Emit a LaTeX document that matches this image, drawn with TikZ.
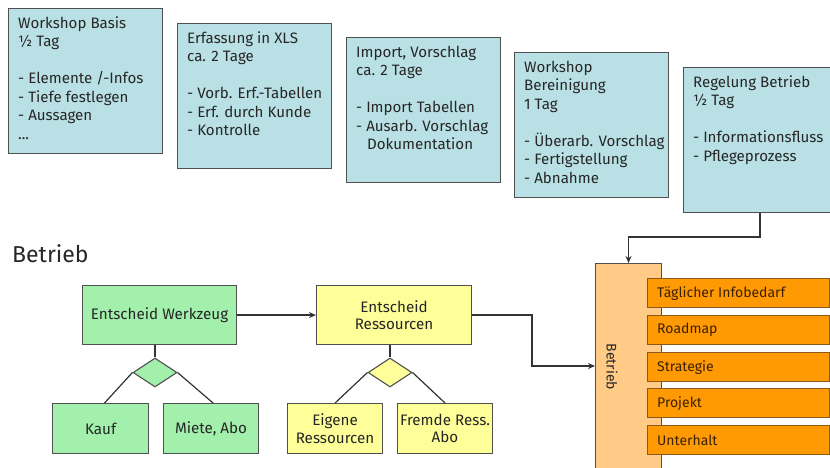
\documentclass[tikz,border=0pt]{standalone}
\usepackage{fontspec}
\setmainfont{Fira Sans}
\usetikzlibrary{arrows.meta,shapes.geometric,calc}
\definecolor{bluefill}{HTML}{B9E0E4}
\definecolor{greenfill}{HTML}{A2F0AC}
\definecolor{yellowfill}{HTML}{FFFF99}
\definecolor{betrfill}{HTML}{FFCB86}
\definecolor{orangefill}{HTML}{FF9A05}
\definecolor{orangeline}{HTML}{8A5A1A}
\definecolor{edge}{HTML}{505050}
\definecolor{browntext}{HTML}{3C2100}
\tikzset{
  box/.style={draw=edge, line width=1.1pt, inner sep=0pt, anchor=north west},
  bluebox/.style={box, fill=bluefill, minimum width=154pt, minimum height=145pt},
  toptext/.style={anchor=north west, inner sep=0pt, align=left, text=black!85,
     font=\fontsize{15.1}{18.5}\selectfont},
  greenbox/.style={box, fill=greenfill},
  yellowbox/.style={box, fill=yellowfill},
  boxtext/.style={align=center, font=\fontsize{15.2}{17.5}\selectfont, text=black!85},
  dia/.style={draw=edge, line width=1.1pt, diamond, inner sep=0pt, minimum width=44pt, minimum height=29pt},
  orangebar/.style={draw=orangeline, line width=1.1pt, fill=orangefill, inner sep=0pt,
     anchor=north west, minimum width=182pt, minimum height=29pt},
  bartext/.style={anchor=west, inner sep=0pt, text=browntext, font=\fontsize{14}{16}\selectfont},
  conn/.style={draw=black!80, line width=1.2pt},
  arr/.style={conn, -{Stealth[length=7pt,width=6pt]}},
}
\begin{document}
\begin{tikzpicture}[x=1pt,y=-1pt]
\clip (0,0) rectangle (830,467);
\fill[white] (0,0) rectangle (830,467);

% top boxes
\node[bluebox] (b1) at (8,8) {};
\node[toptext] (t1) at ([xshift=10pt,yshift=-8.5pt]b1.north west)
  {Workshop Basis\\½ Tag\\[18.5pt]- Elemente /-Infos\\- Tiefe festlegen\\- Aussagen\\...};
\node[bluebox] (b2) at (177,23) {};
\node[toptext] (t2) at ([xshift=10pt,yshift=-8.5pt]b2.north west)
  {Erfassung in XLS\\ca. 2 Tage\\[18.5pt]- Vorb. Erf.-Tabellen\\- Erf. durch Kunde\\- Kontrolle};
\node[bluebox] (b3) at (346,37) {};
\node[toptext] (t3) at ([xshift=10pt,yshift=-8.5pt]b3.north west)
  {Import, Vorschlag\\ca. 2 Tage\\[18.5pt]- Import Tabellen\\- Ausarb. Vorschlag\\\hspace*{11pt}Dokumentation};
\node[bluebox] (b4) at (514,52) {};
\node[toptext] (t4) at ([xshift=10pt,yshift=-8.5pt]b4.north west)
  {Workshop\\Bereinigung\\1 Tag\\[18.5pt]- Überarb. Vorschlag\\- Fertigstellung\\- Abnahme};
\node[bluebox] (b5) at (683,67) {};
\node[toptext] (t5) at ([xshift=10pt,yshift=-8.5pt]b5.north west)
  {Regelung Betrieb\\½ Tag\\[18.5pt]- Informationsfluss\\- Pflegeprozess};

% title
\node[anchor=base west, inner sep=0pt, font=\fontsize{23}{26}\selectfont, text=black!85] (title) at (12,262) {Betrieb};

% Betrieb column
\node[box, fill=betrfill, minimum width=66pt, minimum height=212pt] (betr) at (595,263) {};
\node[rotate=-90, inner sep=0pt, font=\fontsize{14}{16}\selectfont, text=black!85] (betrt) at (612,367) {Betrieb};

% orange bars
\node[orangebar] (o1) at (647,278) {};
\node[bartext] (o1t) at ([xshift=10pt]o1.west) {Täglicher Infobedarf};
\node[orangebar] (o2) at (647,315) {};
\node[bartext] (o2t) at ([xshift=10pt]o2.west) {Roadmap};
\node[orangebar] (o3) at (647,352) {};
\node[bartext] (o3t) at ([xshift=10pt]o3.west) {Strategie};
\node[orangebar] (o4) at (647,388) {};
\node[bartext] (o4t) at ([xshift=10pt]o4.west) {Projekt};
\node[orangebar] (o5) at (647,425) {};
\node[bartext] (o5t) at ([xshift=10pt]o5.west) {Unterhalt};

% arrow from Regelung to Betrieb
\coordinate (k1) at (760,237);
\draw[arr] (b5.south -| k1) -- (k1) -- (k1 -| betr.north) -- (betr.north);

% green part
\node[greenbox, minimum width=154pt, minimum height=59pt] (ew) at (82,285) {};
\node[boxtext] (ewt) at (ew.center) {Entscheid Werkzeug};
\node[dia, fill=greenfill] (dg) at (155,372.5) {};
\node[greenbox, minimum width=96pt, minimum height=50pt] (kauf) at (52,403) {};
\node[boxtext] (kauft) at (kauf.center) {Kauf};
\node[greenbox, minimum width=95pt, minimum height=50pt] (miete) at (163,403) {};
\node[boxtext] (mietet) at (miete.center) {Miete, Abo};
\draw[conn] (dg.north |- ew.south) -- (dg.north);
\draw[conn] (dg.west) -- ([xshift=4pt]kauf.north);
\draw[conn] (dg.east) -- ([xshift=2pt]miete.north);

% yellow part
\node[yellowbox, minimum width=155pt, minimum height=59pt] (er) at (316,285) {};
\node[boxtext] (ert) at (er.center) {Entscheid\\Ressourcen};
\node[dia, fill=yellowfill] (dy) at (390,372.5) {};
\node[yellowbox, minimum width=95pt, minimum height=50pt] (eig) at (287,403) {};
\node[boxtext] (eigt) at (eig.center) {Eigene\\Ressourcen};
\node[yellowbox, minimum width=95pt, minimum height=50pt] (fre) at (397,403) {};
\node[boxtext] (fret) at (fre.center) {Fremde Ress.\\Abo};
\draw[conn] (dy.north |- er.south) -- (dy.north);
\draw[conn] (dy.west) -- (eig.north);
\draw[conn] (dy.east) -- (fre.north);

% connectors
\draw[arr] (ew.east) -- (er.west);
\coordinate (k2) at (532,366);
\draw[arr] (er.east) -- (er.east -| k2) -- (k2) -- (k2 -| betr.west);
\end{tikzpicture}
\end{document}
